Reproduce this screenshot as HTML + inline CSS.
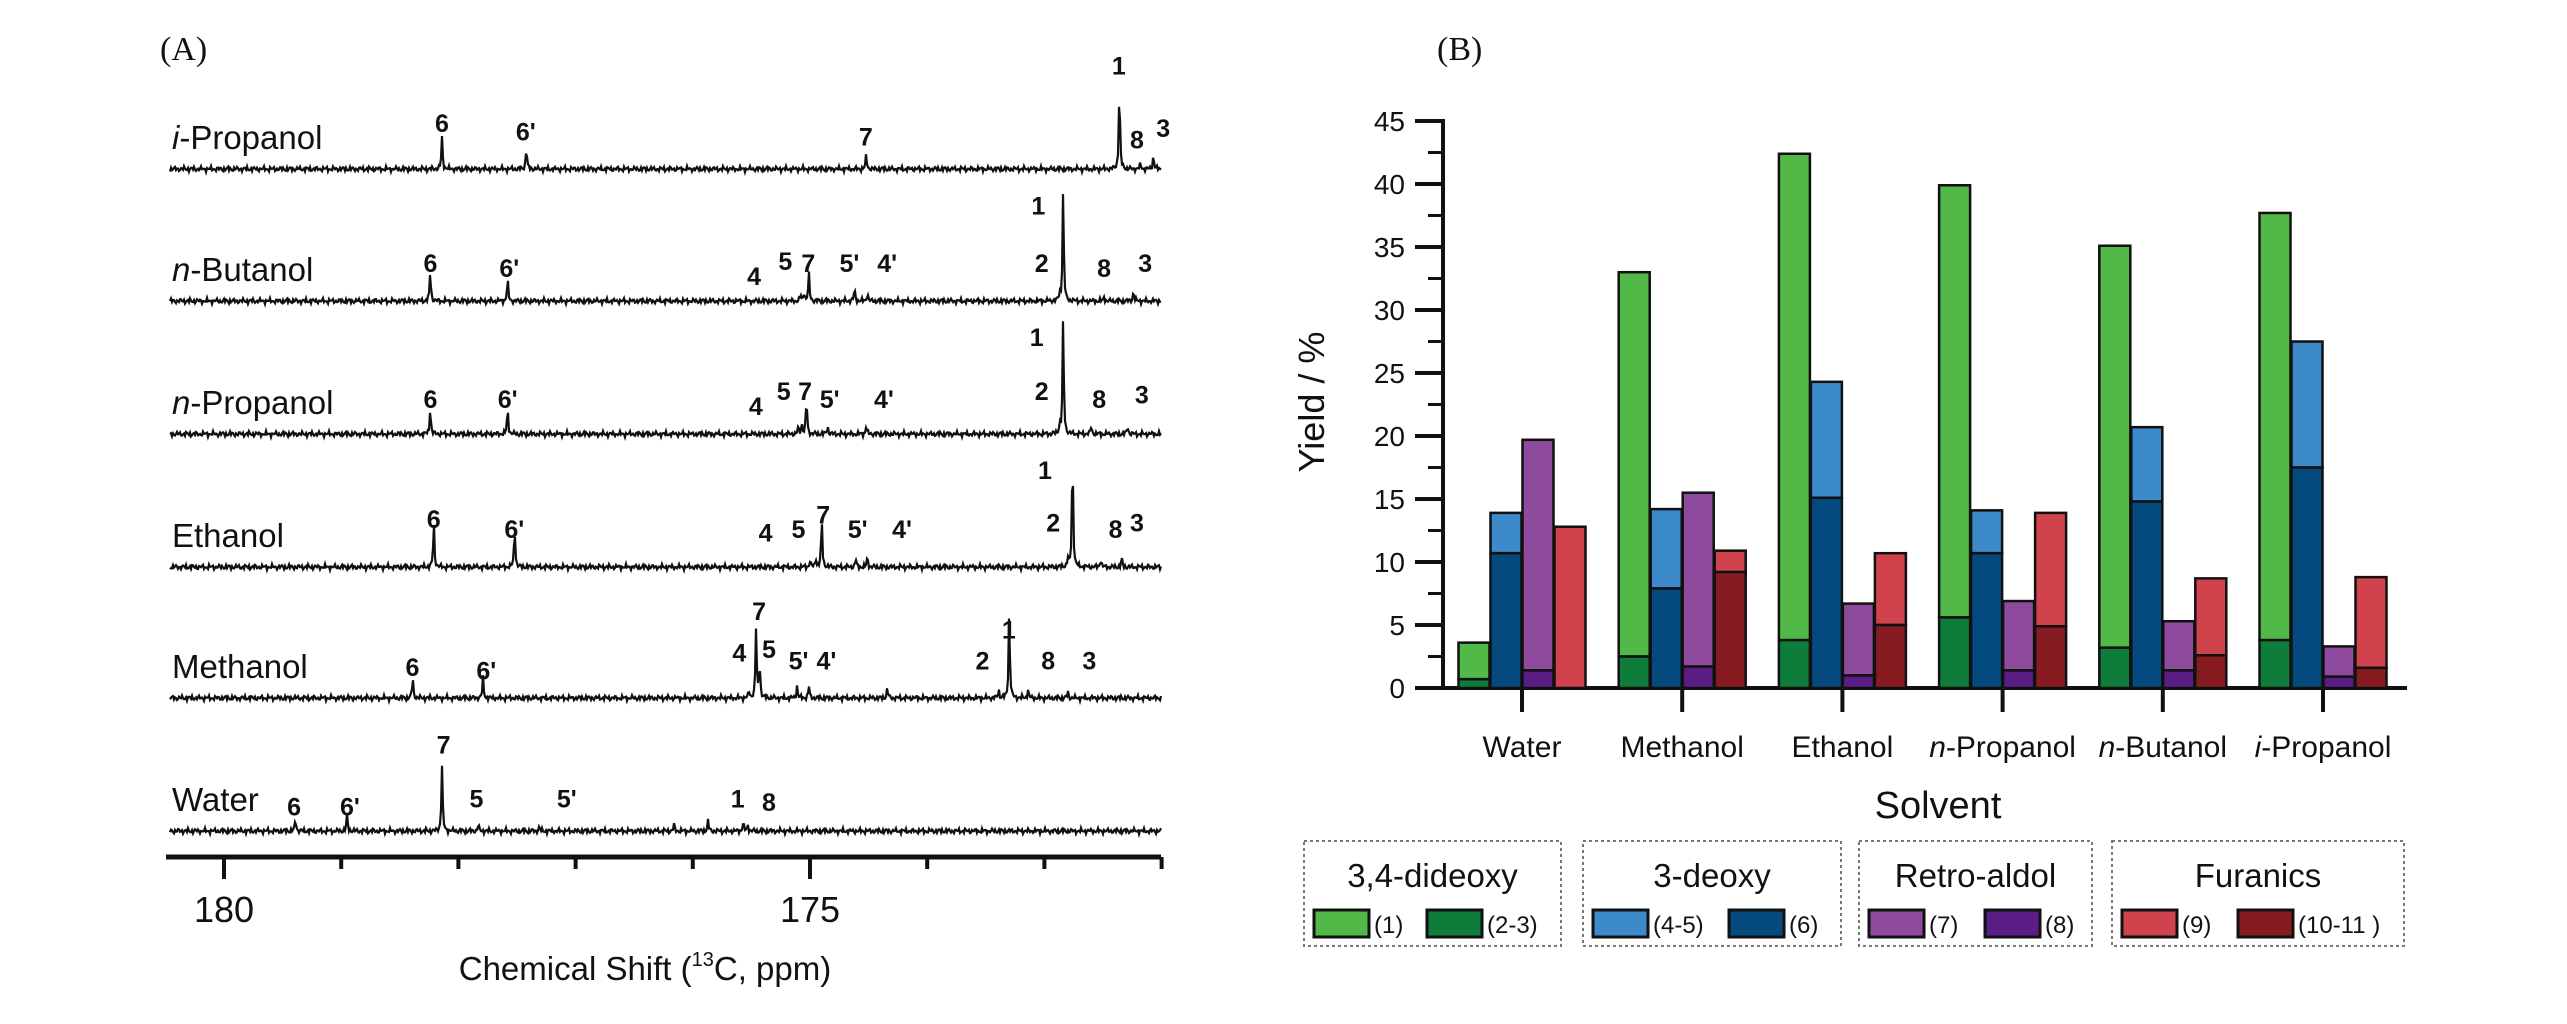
<!DOCTYPE html>
<html><head><meta charset="utf-8"><style>
html,body{margin:0;padding:0;background:#fff;width:2567px;height:1024px;overflow:hidden}
svg{display:block}
text{font-family:"Liberation Sans",sans-serif;fill:#111}
</style></head><body>
<svg id="fig" width="2567" height="1024" viewBox="0 0 2567 1024" xmlns="http://www.w3.org/2000/svg">
<text x="160" y="60" style="font-family:'Liberation Serif',serif" font-size="34">(A)</text>
<text x="1437" y="60" style="font-family:'Liberation Serif',serif" font-size="34">(B)</text>
<g id="panelA"></g>
<g id="panelB"></g>
</svg>
<script>
// ---------- Panel A data ----------
const spectraNames = ["i-Propanol","n-Butanol","n-Propanol","Ethanol","Methanol","Water"];
const spectraBase = [169,301,434,567,698,831];
const peaksIPro = [[178.14,32],[177.42,22],[174.52,14],[172.36,84],[172.18,5],[172.07,14]];
const peaksNBut = [[178.24,30],[177.58,22],[175.08,6],[175.05,8],[175.01,28],[174.62,12],[174.51,8],[172.87,6],[172.84,112],[172.49,4],[172.24,10]];
const peaksNPro = [[178.24,26],[177.58,26],[175.10,6],[175.07,10],[175.03,36],[174.85,8],[174.52,8],[172.87,8],[172.84,116],[172.60,8],[172.29,8]];
const peaksEth = [[178.21,44],[177.52,40],[175.00,6],[174.95,8],[174.90,48],[174.61,8],[174.51,10],[172.80,8],[172.76,118],[172.52,8],[172.34,8]];
const peaksMeth = [[178.39,20],[177.79,20],[175.52,6],[175.46,70],[175.43,35],[175.11,12],[175.01,12],[174.34,10],[173.39,8],[173.30,88],[173.14,8],[172.80,6]];
const peaksWater = [[179.39,12],[178.95,16],[178.14,66],[177.83,6],[177.31,4],[176.16,6],[175.87,10],[175.57,8],[175.53,6]];
const spectraPeaks = [peaksIPro,peaksNBut,peaksNPro,peaksEth,peaksMeth,peaksWater];
const ppmTicks = [180,179,178,177,176,175,174,173,172];
const ppmLabels = [180,175];
const labIPro = [["6",269,75],["6'",320,80],["7",527,83],["1",681,40],["8",692,85],["3",708,78]];
const labNBut = [["6",262,160],["6'",310,163],["4",459,168],["5",478,159],["7",492,160],["5'",517,160],["4'",540,160],["1",632,125],["2",634,160],["8",672,163],["3",697,160]];
const labNPro = [["6",262,243],["6'",309,243],["4",460,247],["5",477,238],["7",490,238],["5'",505,243],["4'",538,243],["1",631,205],["2",634,238],["8",669,243],["3",695,240]];
const labEth = [["6",264,316],["6'",313,322],["4",466,324],["5",486,322],["7",501,313],["5'",522,322],["4'",549,322],["1",636,286],["2",641,318],["8",679,322],["3",692,318]];
const labMeth = [["6",251,406],["6'",296,408],["4",450,397],["7",462,372],["5",468,395],["5'",486,402],["4'",503,402],["1",614,383],["2",598,402],["8",638,402],["3",663,402]];
const labWater = [["6",179,491],["6'",213,491],["7",270,453],["5",290,486],["5'",345,486],["1",449,486],["8",468,488]];
const spectraLabels = [labIPro,labNBut,labNPro,labEth,labMeth,labWater];

// ---------- Panel B data ----------
const solvents = ["Water","Methanol","Ethanol","n-Propanol","n-Butanol","i-Propanol"];
const dideoxyTotal = [3.6,33.0,42.4,39.9,35.1,37.7];
const dideoxyLow = [0.7,2.5,3.8,5.6,3.2,3.8];
const deoxyTotal = [13.9,14.2,24.3,14.1,20.7,27.5];
const deoxyLow = [10.7,7.9,15.1,10.7,14.8,17.5];
const retroTotal = [19.7,15.5,6.7,6.9,5.3,3.3];
const retroLow = [1.4,1.7,1.0,1.4,1.4,0.9];
const furanTotal = [12.8,10.9,10.7,13.9,8.7,8.8];
const furanLow = [0,9.2,5.0,4.9,2.6,1.6];
const yTicks = [0,5,10,15,20,25,30,35,40,45];

const NS="http://www.w3.org/2000/svg";
function mk(tag,attrs,parent){const e=document.createElementNS(NS,tag);for(const k in attrs)e.setAttribute(k,attrs[k]);parent.appendChild(e);return e;}

// ---------- Panel A ----------
const A=document.getElementById('panelA');
const S=1.643;
function xp(ppm){return 224+(180-ppm)*117.2;}
const axL=166, axR=1161, axY=857;
const ax=mk('line',{x1:axL,y1:axY,x2:axR,y2:axY,stroke:'#111','stroke-width':5},A);


ppmTicks.forEach(p=>{
  const big=ppmLabels.includes(p);
  const t=mk('line',{x1:xp(p),y1:axY,x2:xp(p),y2:axY+(big?22:12),stroke:'#111','stroke-width':4},A);
  
  
});
ppmLabels.forEach(p=>{
  const t=mk('text',{x:xp(p),y:922,'font-size':36,'text-anchor':'middle'},A);t.textContent=p;
  
  
});
const xt=mk('text',{x:645,y:980,'font-size':33,'text-anchor':'middle'},A);
xt.innerHTML='Chemical Shift (<tspan font-size="20" dy="-14">13</tspan><tspan dy="14">C, ppm)</tspan>';



spectraNames.forEach((nm,i)=>{
  const base=spectraBase[i], pk=spectraPeaks[i];
  let d='';
  for(let x=axL+4;x<=axR;x+=1){
    let y=base;
    pk.forEach(([p,h])=>{const u=(x-xp(p))/0.7;y-=h/(1+u*u);});
    y+=1.4*Math.sin(x*1.9+i)+1.0*Math.sin(x*0.71+2*i)+0.8*Math.sin(x*3.3);
    d+=(d?'L':'M')+x.toFixed(1)+' '+y.toFixed(1);
  }
  const p=mk('path',{d:d,fill:'none',stroke:'#111','stroke-width':2.2},A);
  
  
  const t=mk('text',{x:172,y:base-20,'font-size':33},A);
  if(nm.indexOf('-')===1){t.innerHTML='<tspan font-style="italic">'+nm[0]+'</tspan>'+nm.slice(1);}else t.textContent=nm;
  
  
  spectraLabels[i].forEach(([s,xd,yd])=>{
    const l=mk('text',{x:xd*S,y:yd*S+9,'font-size':25,'font-weight':'bold','text-anchor':'middle'},A);
    l.textContent=s;
    
    
  });
});

// ---------- Panel B ----------
const B=document.getElementById('panelB');
const y0=688, yPer=12.6, bx0=1443, bxEnd=2407, c0=1522, cStep=160.2, bw=31;
function ys(v){return y0-v*yPer;}
function xc(i){return c0+i*cStep;}
const yax=mk('line',{x1:bx0,y1:ys(45)-2,x2:bx0,y2:y0,stroke:'#111','stroke-width':4},B);


const xax=mk('line',{x1:1415,y1:y0,x2:bxEnd,y2:y0,stroke:'#111','stroke-width':4},B);


yTicks.forEach(v=>{
  const t=mk('line',{x1:1415,y1:ys(v),x2:bx0,y2:ys(v),stroke:'#111','stroke-width':4},B);
  
  
  if(v<45){const m=mk('line',{x1:1428,y1:ys(v+2.5),x2:bx0,y2:ys(v+2.5),stroke:'#111','stroke-width':3},B);
  
  }
  const l=mk('text',{x:1405,y:ys(v)+10,'font-size':28,'text-anchor':'end'},B);l.textContent=v;
  
  
});
const yt=mk('text',{x:1324,y:402,'font-size':36,'text-anchor':'middle',transform:'rotate(-90 1324 402)'},B);
yt.textContent='Yield / %';


const groups=[[dideoxyTotal,dideoxyLow,'#52b848','#0e7d3c'],[deoxyTotal,deoxyLow,'#3d8acb','#044a7e'],[retroTotal,retroLow,'#8e4b9d','#5a1d86'],[furanTotal,furanLow,'#d1434c','#861c22']];
const gnames=['dideoxy','deoxy','retro-aldol','furanics'];
solvents.forEach((s,i)=>{
  const tk=mk('line',{x1:xc(i),y1:y0,x2:xc(i),y2:y0+24,stroke:'#111','stroke-width':4},B);
  
  
  groups.forEach(([tot,low,cl,cd],g)=>{
    const x=xc(i)+(g-2)*32+0.5;
    const r1=mk('rect',{x:x,y:ys(tot[i]),width:bw,height:(tot[i]-low[i])*yPer,fill:cl,stroke:'#111','stroke-width':2.5},B);
    
    
    if(low[i]>0){const r2=mk('rect',{x:x,y:ys(low[i]),width:bw,height:low[i]*yPer,fill:cd,stroke:'#111','stroke-width':2.5},B);
    
    }
  });
  const l=mk('text',{x:xc(i),y:757,'font-size':30,'text-anchor':'middle'},B);
  if(s.indexOf('-')===1){l.innerHTML='<tspan font-style="italic">'+s[0]+'</tspan>'+s.slice(1);}else l.textContent=s;
  
  
});
const st=mk('text',{x:1938,y:818,'font-size':38,'text-anchor':'middle'},B);st.textContent='Solvent';


// legend
const legBoxes=[[1304,1561,'3,4-dideoxy','(1)','(2-3)',123],[1583,1841,'3-deoxy','(4-5)','(6)',146],[1859,2092,'Retro-aldol','(7)','(8)',126],[2112,2404,'Furanics','(9)','(10-11 )',126]];
legBoxes.forEach(([x1,x2,title,a,b,off],g)=>{
  const r=mk('rect',{x:x1,y:841,width:x2-x1,height:105,fill:'none',stroke:'#777','stroke-width':2,'stroke-dasharray':'3 3'},B);
  
  
  const t=mk('text',{x:(x1+x2)/2,y:887,'font-size':33,'text-anchor':'middle'},B);t.textContent=title;
  
  
  [[a,groups[g][2],x1+10],[b,groups[g][3],x1+off]].forEach(([lab,col,sx])=>{
    const sw=mk('rect',{x:sx,y:910,width:55,height:27,fill:col,stroke:'#111','stroke-width':3},B);
    
    
    const lt=mk('text',{x:sx+60,y:933,'font-size':24},B);lt.textContent=lab;
    
    
  });
});
</script>
</body></html>
